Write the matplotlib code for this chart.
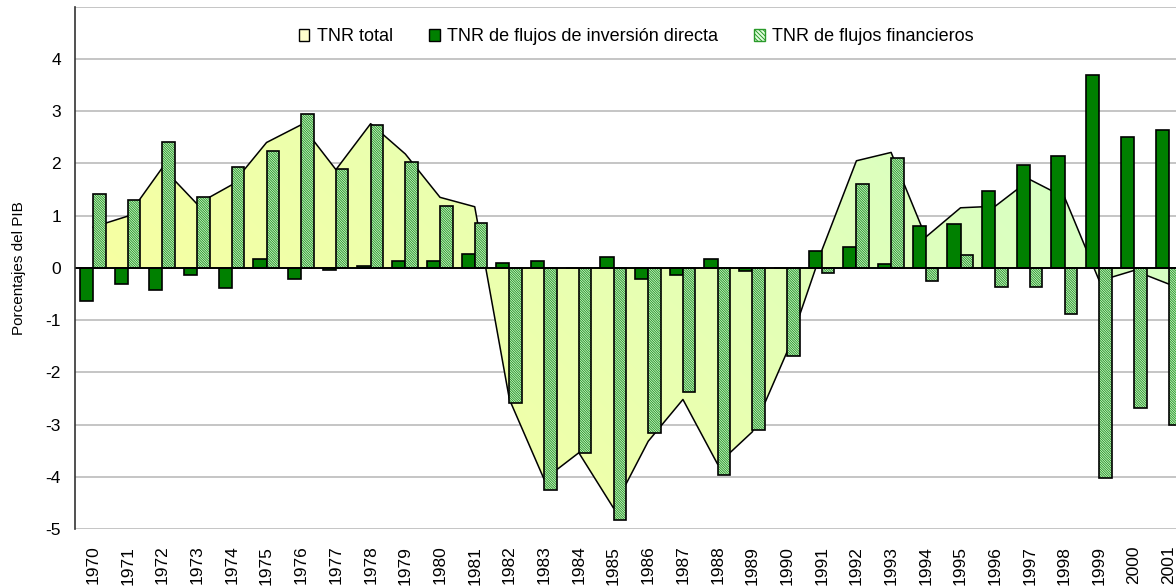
import numpy as np
import matplotlib.pyplot as plt
from matplotlib.patches import Patch
from matplotlib.colors import to_rgb

plt.rcParams['font.family'] = ['Liberation Sans', 'DejaVu Sans']
plt.rcParams['hatch.linewidth'] = 0.7

# Transferencia neta de recursos, porcentajes del PIB
years = [str(y) for y in range(1970, 2002)]
tnr_total = [0.78, 0.99, 1.92, 1.22, 1.59, 2.40, 2.74, 1.88, 2.76, 2.18,
             1.35, 1.17, -2.52, -4.05, -3.54, -4.60, -3.32, -2.52, -3.76, -3.14,
             -1.61, 0.33, 2.05, 2.21, 0.59, 1.15, 1.18, 1.69, 1.35, -0.25,
             -0.05, -0.31]
tnr_ied = [-0.63, -0.31, -0.43, -0.14, -0.38, 0.16, -0.21, -0.05, 0.03, 0.13,
           0.13, 0.27, 0.10, 0.14, 0.0, 0.20, -0.21, -0.13, 0.17, -0.06,
           0.0, 0.33, 0.39, 0.08, 0.81, 0.84, 1.48, 1.97, 2.14, 3.69,
           2.51, 2.64]
tnr_fin = [1.42, 1.30, 2.40, 1.36, 1.93, 2.24, 2.94, 1.90, 2.74, 2.03,
           1.19, 0.86, -2.58, -4.25, -3.55, -4.82, -3.17, -2.38, -3.96, -3.10,
           -1.68, -0.10, 1.61, 2.11, -0.26, 0.24, -0.37, -0.37, -0.88, -4.03,
           -2.68, -3.01]
yticks = [-5, -4, -3, -2, -1, 0, 1, 2, 3, 4, 5]

x = np.arange(len(years))

fig = plt.figure(figsize=(11.76, 5.86), dpi=100)
ax = fig.add_axes([75 / 1176, 1 - 529 / 586, 1 - 75 / 1176, (529 - 6.7) / 586])
ax.set_xlim(-0.52, 31.21)
ax.set_ylim(-5, 5)

# gridlines
for t in yticks:
    ax.axhline(t, color='#c0c0c0', lw=1.3, zorder=0)

# area with gradient fill (yellow -> light green)
area = ax.fill_between(x, tnr_total, 0, facecolor='none', edgecolor='none', zorder=1)
c1 = np.array(to_rgb('#ffff99'))
c2 = np.array(to_rgb('#d4ffc8'))
gx, gy = np.meshgrid(np.linspace(0, 1, 300), np.linspace(0, 1, 200))
t = np.clip(0.75 * gx + 0.35 * gy, 0, 1)
img = c1[None, None, :] * (1 - t[..., None]) + c2[None, None, :] * t[..., None]
im = ax.imshow(img, extent=[-0.52, 31.21, 5, -5], aspect='auto', zorder=1,
               interpolation='bilinear')
im.set_clip_path(area.get_paths()[0], transform=ax.transData)
ax.set_ylim(-5, 5)
ax.plot(x, tnr_total, color='black', lw=1.1, zorder=2)

# bars
w_ied = 0.38
w_fin = 0.36
hatch_fin = '\\' * 14
ax.bar(x - w_ied, tnr_ied, width=w_ied, align='edge', color='#008000',
       edgecolor='black', lw=1.2, zorder=3)
ax.bar(x, tnr_fin, width=w_fin, align='edge', facecolor='#e4ffe0',
       edgecolor='#2a9a2a', hatch=hatch_fin, lw=0, zorder=3)
ax.bar(x, tnr_fin, width=w_fin, align='edge', facecolor='none',
       edgecolor='black', lw=1.2, zorder=4)

ax.axhline(0, color='black', lw=1.4, zorder=5)

ax.set_xticks(x)
ax.set_xticklabels(years, rotation=90, fontsize=12.5)
ax.set_yticks(yticks[:-1])
ax.set_yticklabels([str(t) for t in yticks[:-1]], fontsize=12.5)
ax.tick_params(axis='both', length=0)
ax.tick_params(axis='y', pad=10)
ax.tick_params(axis='x', pad=12)
for s in ['top', 'right', 'bottom']:
    ax.spines[s].set_visible(False)
ax.spines['left'].set_color('#333333')
ax.spines['left'].set_linewidth(1.2)
ax.spines['left'].set_zorder(6)
ax.set_ylabel('Porcentajes del PIB', fontsize=11)
ax.yaxis.set_label_coords(-0.0445, 0.5)

handles = [
    Patch(facecolor='#ffffcc', edgecolor='black', lw=1),
    Patch(facecolor='#008000', edgecolor='black', lw=1),
    Patch(facecolor='#e4ffe0', edgecolor='#2a9a2a', hatch='\\' * 8, lw=1),
]
labels = ['TNR total', 'TNR de flujos de inversión directa', 'TNR de flujos financieros']
fig.legend(handles, labels, loc='center', bbox_to_anchor=(0.541, 0.937), ncol=3,
           frameon=False, fontsize=13, handlelength=0.6, handleheight=0.6,
           handletextpad=0.4, columnspacing=2.0)

fig.savefig('out.png', dpi=100)
